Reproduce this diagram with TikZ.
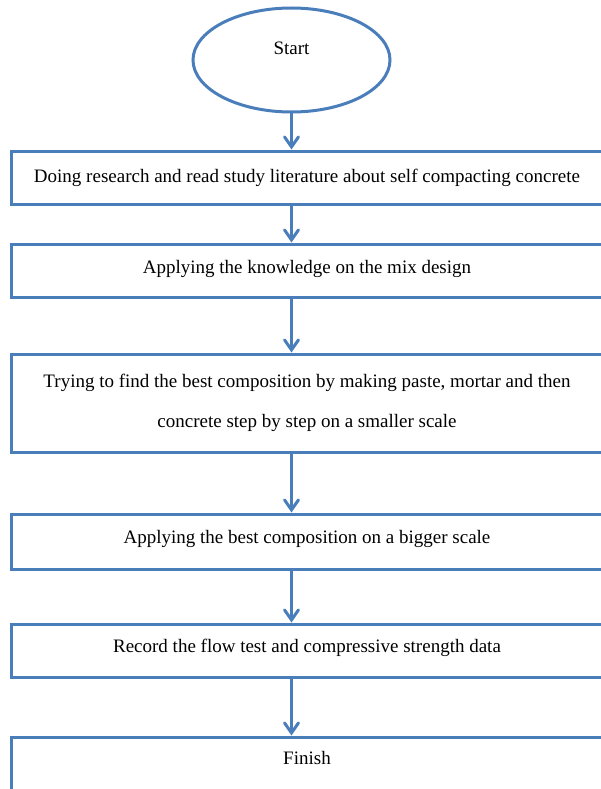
\documentclass[tikz,border=0pt]{standalone}
\usepackage{fontspec}
\setmainfont{Liberation Serif}
\usetikzlibrary{shapes.geometric,arrows.meta}

\definecolor{flowblue}{RGB}{74,126,187}

\begin{document}
\begin{tikzpicture}[x=1pt,y=1pt,
  term/.style={ellipse, draw=flowblue, line width=3pt, minimum width=197pt, minimum height=104pt},
  block/.style={rectangle, draw=flowblue, line width=3pt, minimum width=592pt, align=center, font=\fontsize{19}{40}\selectfont},
  txt/.style={font=\fontsize{19}{40}\selectfont},
  flow/.style={draw=flowblue, line width=3pt, -{Straight Barb[length=10pt,width=14pt,line cap=round]}}]

  \useasboundingbox (0,0) rectangle (601,-789);
  \clip (0,0) rectangle (601,-789);

  \node[term] (start) at (291.5,-60) {};
  \node[txt] (startlbl) at (291.5,-48) {Start};

  \node[block, minimum height=53pt] (research) at (307,-177.5) {Doing research and read study literature about self compacting concrete};
  \node[block, minimum height=53pt, text depth=8pt] (apply) at (307,-270.5) {Applying the knowledge on the mix design};
  \node[block, minimum height=98pt] (trial) at (307,-403) {Trying to find the best composition by making paste, mortar and then\\concrete step by step on a smaller scale};
  \node[block, minimum height=55pt, text depth=10pt] (scale) at (307,-541.5) {Applying the best composition on a bigger scale};
  \node[block, minimum height=53pt, text depth=10pt] (record) at (307,-650.5) {Record the flow test and compressive strength data};
  \node[block, minimum height=60pt, text depth=18pt] (finish) at (307,-767) {Finish};

  \draw[flow] (start.south) -- (start.south |- research.north);
  \draw[flow] (research.south -| start) -- (apply.north -| start);
  \draw[flow] (apply.south -| start) -- (trial.north -| start);
  \draw[flow] (trial.south -| start) -- (scale.north -| start);
  \draw[flow] (scale.south -| start) -- (record.north -| start);
  \draw[flow] (record.south -| start) -- (finish.north -| start);
\end{tikzpicture}
\end{document}
